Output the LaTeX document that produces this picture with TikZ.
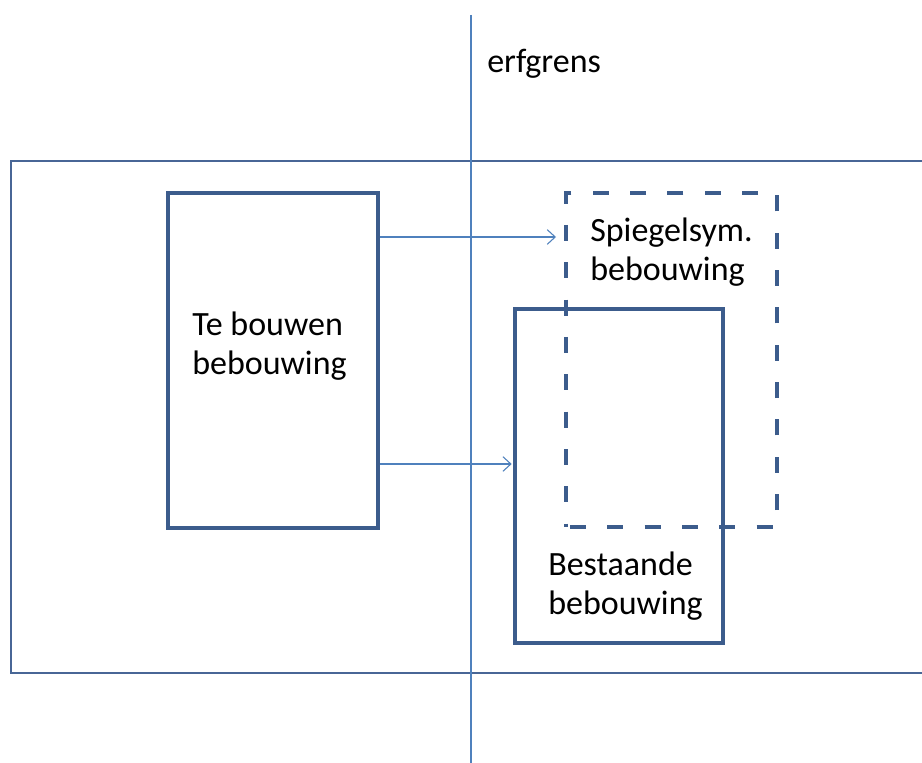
\documentclass[tikz,border=0pt]{standalone}
\usepackage{fontspec}
\setmainfont{Carlito}
\usetikzlibrary{arrows.meta}
\definecolor{boxblue}{RGB}{60,92,140}
\definecolor{outerblue}{RGB}{72,102,150}
\definecolor{lineblue}{RGB}{79,129,189}
\tikzset{
  box/.style={draw=boxblue, line width=3pt, rectangle, inner sep=0pt},
  dashbox/.style={box, dash pattern=on 12pt off 16pt, dash phase=-3pt},
  label/.style={inner sep=0pt, align=left, anchor=west, font=\fontsize{25.5}{29.5}\selectfont},
  arr/.style={draw=lineblue, line width=0.8pt, -{Straight Barb[length=6pt,width=11pt,line width=0.8pt]}},
}
\begin{document}
\begin{tikzpicture}[x=0.75pt,y=-0.75pt]
\useasboundingbox (0,0) rectangle (922,763);
\clip (0,0) rectangle (922,763);
\fill[white] (0,0) rectangle (922,763);
% outer plot
\draw[draw=outerblue, line width=1.6pt] (11,161) rectangle (940,673);
% property boundary
\coordinate (gtop) at (471,15);
\coordinate (gbot) at (471,763);
\draw[draw=lineblue, line width=1.2pt] (gtop) -- (gbot);
\node[label, anchor=west] (erf) at (487,64) {erfgrens};
% boxes
\node[box, minimum width=157.5pt, minimum height=251.25pt] (tb) at (273,360.5) {};
\node[dashbox, minimum width=158.25pt, minimum height=250.5pt] (sp) at (671.5,360) {};
\node[box, minimum width=156pt, minimum height=250.5pt] (be) at (619,476) {};
% labels
\node[label] (tbl) at (192,346) {Te bouwen\\bebouwing};
\node[label] (spl) at (590,252) {Spiegelsym.\\bebouwing};
\node[label] (bel) at (548,586) {Bestaande\\bebouwing};
% arrows
\coordinate (a1) at (0,237);
\coordinate (a2) at (0,464);
\draw[arr] (tb.east |- a1) -- ([xshift=-6pt]sp.west |- a1);
\draw[arr] (tb.east |- a2) -- ([xshift=-1pt]be.west |- a2);
\end{tikzpicture}
\end{document}
